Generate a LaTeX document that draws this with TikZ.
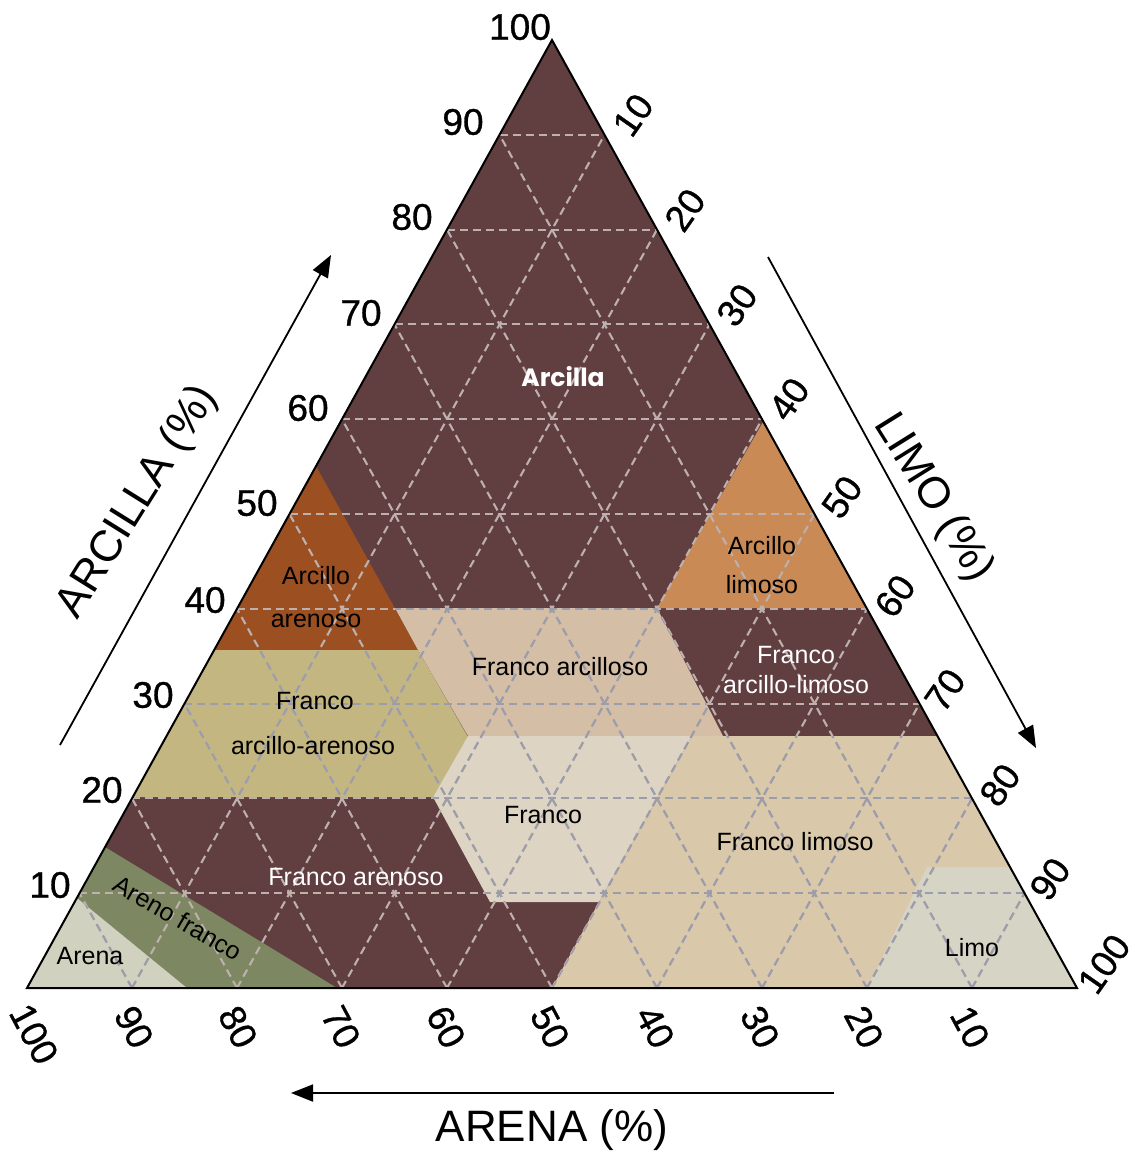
\documentclass[tikz,border=0pt]{standalone}
\usepackage{fontspec}
\setmainfont{Liberation Sans}
\newfontfamily\popfont{Poppins}
\newfontfamily\numfont{Liberation Sans}[FakeBold=0.9]
\usetikzlibrary{arrows.meta,calc}
\definecolor{cMaroon}{HTML}{613E3F}
\definecolor{cBrown}{HTML}{9C5021}
\definecolor{cOlive}{HTML}{C3B680}
\definecolor{cTanA}{HTML}{D4BEA6}
\definecolor{cFranco}{HTML}{DED4C3}
\definecolor{cTanL}{HTML}{D9C8AA}
\definecolor{cLimo}{HTML}{D5D4C5}
\definecolor{cArena}{HTML}{D0D1BE}
\definecolor{cGreen}{HTML}{7D8862}
\definecolor{cOrange}{HTML}{C98A56}
\definecolor{cGridLight}{HTML}{BDB0AD}
\definecolor{cGridDark}{HTML}{9C9DAB}
\begin{document}
\begin{tikzpicture}[x=1pt,y=-1pt,
  gridline/.style={line width=2.1pt, dash pattern=on 8pt off 5pt},
  lab/.style={font=\fontsize{25}{30}\selectfont, inner sep=0pt, text=black},
  wlab/.style={lab, text=white},
  num/.style={font=\numfont\fontsize{37}{40}\selectfont, inner sep=0pt},
  axistitle/.style={font=\fontsize{44}{50}\selectfont, inner sep=0pt},
  axisarrow/.style={line width=1.8pt, -{Triangle[length=22pt,width=17pt]}}
]
\useasboundingbox (0,0) rectangle (1141,1151);
\fill[white] (0,0) rectangle (1141,1151);

\coordinate (L) at (27,988);
\coordinate (R) at (1077,988);
\coordinate (T) at (552,40);

% regions
\fill[cMaroon] (L) -- (R) -- (T) -- cycle;
\fill[cBrown] (316,466) -- (418,650) -- (214,650) -- cycle;
\fill[cOlive] (214,650) -- (418,650) -- (468,737) -- (433,797) -- (133,797) -- cycle;
\fill[cTanA] (395,608) -- (657,608) -- (723,736) -- (468,736) -- (418,650) -- cycle;
\fill[cOrange] (763,422) -- (866,608) -- (657,608) -- cycle;
\fill[cFranco] (468,736) -- (692,736) -- (599,902) -- (490,902) -- (433,797) -- cycle;
\fill[cTanL] (692,736) -- (937,736) -- (1077,988) -- (552,988) -- (599,902) -- cycle;
\fill[cLimo] (927,867) -- (1010,867) -- (1077,988) -- (867,988) -- cycle;
\fill[cGreen] (105,847) -- (337,988) -- (187,988) -- (77,898) -- cycle;
\fill[cArena] (77,898) -- (187,988) -- (27,988) -- cycle;

% grid (light on dark regions)
\foreach \k in {1,...,9} {
  \draw[gridline, draw=cGridLight] ($(L)!\k/10!(T)$) -- ($(R)!\k/10!(T)$);
  \draw[gridline, draw=cGridLight] ($(L)!\k/10!(R)$) -- ($(T)!\k/10!(R)$);
  \draw[gridline, draw=cGridLight] ($(L)!\k/10!(R)$) -- ($(L)!\k/10!(T)$);
}
% grid (grey-blue on pale regions)
\begin{scope}
\clip (214,650) -- (418,650) -- (468,737) -- (433,797) -- (133,797) -- cycle
      (395,608) -- (657,608) -- (723,736) -- (468,736) -- (418,650) -- cycle
      (468,736) -- (692,736) -- (599,902) -- (490,902) -- (433,797) -- cycle
      (692,736) -- (937,736) -- (1077,988) -- (552,988) -- (599,902) -- cycle
      (77,898) -- (187,988) -- (27,988) -- cycle;
\foreach \k in {1,...,9} {
  \draw[gridline, draw=cGridDark] ($(L)!\k/10!(T)$) -- ($(R)!\k/10!(T)$);
  \draw[gridline, draw=cGridDark] ($(L)!\k/10!(R)$) -- ($(T)!\k/10!(R)$);
  \draw[gridline, draw=cGridDark] ($(L)!\k/10!(R)$) -- ($(L)!\k/10!(T)$);
}
\end{scope}

% border
\draw[line width=2pt, line join=miter] (L) -- (R) -- (T) -- cycle;

% clay labels (left)
\node[num] (c100) at (520,27) {100};
\node[num] (c90) at (463,122) {90};
\node[num] (c80) at (412,217) {80};
\node[num] (c70) at (361,313) {70};
\node[num] (c60) at (308,408) {60};
\node[num] (c50) at (257,503) {50};
\node[num] (c40) at (205,600) {40};
\node[num] (c30) at (153,695) {30};
\node[num] (c20) at (102,790) {20};
\node[num] (c10) at (50,885) {10};

% silt labels (right)
\node[num, rotate=55] (s10) at (633,115) {10};
\node[num, rotate=55] (s20) at (685,210) {20};
\node[num, rotate=55] (s30) at (737,305) {30};
\node[num, rotate=55] (s40) at (789,399) {40};
\node[num, rotate=55] (s50) at (842,497) {50};
\node[num, rotate=55] (s60) at (895,596) {60};
\node[num, rotate=55] (s70) at (945,690) {70};
\node[num, rotate=55] (s80) at (1000,785) {80};
\node[num, rotate=55] (s90) at (1050,879) {90};
\node[num, rotate=55] (s100) at (1104,964) {100};

% sand labels (bottom)
\node[num, rotate=-62] (a100) at (34,1034) {100};
\node[num, rotate=-62] (a90) at (134,1027) {90};
\node[num, rotate=-62] (a80) at (238,1027) {80};
\node[num, rotate=-62] (a70) at (341,1027) {70};
\node[num, rotate=-62] (a60) at (446,1027) {60};
\node[num, rotate=-62] (a50) at (550,1027) {50};
\node[num, rotate=-62] (a40) at (655,1027) {40};
\node[num, rotate=-62] (a30) at (760,1027) {30};
\node[num, rotate=-62] (a20) at (864,1027) {20};
\node[num, rotate=-62] (a10) at (970,1027) {10};

% axis titles and arrows
\node[axistitle, rotate=58] (tclay) at (138,502) {ARCILLA (\%)};
\node[axistitle, rotate=-58] (tsilt) at (933,498) {LIMO (\%)};
\node[axistitle] (tsand) at (552,1130) {ARENA (\%)};

\coordinate (la0) at (60,745);
\coordinate (la1) at (331,255);
\coordinate (ra0) at (768,257);
\coordinate (ra1) at (1036,748);
\coordinate (ba0) at (834,1093);
\coordinate (ba1) at (291,1093);
\draw[axisarrow] (la0) -- (la1);
\draw[axisarrow] (ra0) -- (ra1);
\draw[axisarrow] (ba0) -- (ba1);

% region labels
\node[wlab, font=\popfont\bfseries\fontsize{25}{30}\selectfont] (arcilla) at (563,377) {Arcilla};
\node[lab] (aa1) at (316,576) {Arcillo};
\node[lab] (aa2) at (316,621) {arenoso};
\node[lab] (faa1) at (315,701) {Franco};
\node[lab] (faa2) at (313,746) {arcillo-arenoso};
\node[lab] (fa) at (560,667) {Franco arcilloso};
\node[lab] (al1) at (762,546) {Arcillo};
\node[lab] (al2) at (762,585) {limoso};
\node[wlab] (fal1) at (796,655) {Franco};
\node[wlab] (fal2) at (796,685) {arcillo-limoso};
\node[lab] (franco) at (543,815) {Franco};
\node[lab] (fl) at (795,842) {Franco limoso};
\node[wlab] (fare) at (356,877) {Franco arenoso};
\node[lab, rotate=-30] (arf) at (178,918) {Areno franco};
\node[lab] (arena) at (90,956) {Arena};
\node[lab] (limo) at (972,948) {Limo};
\end{tikzpicture}
\end{document}
